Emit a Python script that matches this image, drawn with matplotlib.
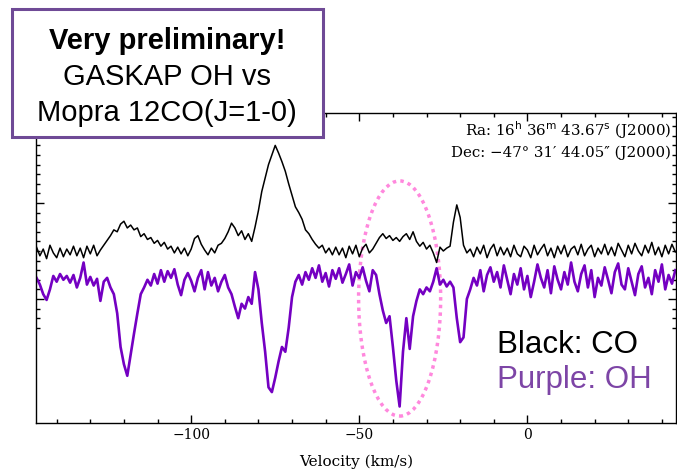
import numpy as np
import matplotlib
matplotlib.use('Agg')
import matplotlib.pyplot as plt
from matplotlib.patches import Ellipse, Rectangle
from matplotlib.ticker import MultipleLocator, FixedLocator

# canales de velocidad (km/s), paso de 1 km/s
vel = np.arange(-146, 45, 1.0)

# espectro CO (negro), unidades arbitrarias
co = [0.54, 0.45, 0.52, 0.42, 0.56, 0.48, 0.43, 0.53, 0.44, 0.52,
      0.46, 0.55, 0.45, 0.53, 0.43, 0.55, 0.47, 0.56, 0.45, 0.51,
      0.56, 0.61, 0.66, 0.72, 0.70, 0.78, 0.81, 0.74, 0.77, 0.72,
      0.74, 0.65, 0.68, 0.62, 0.64, 0.58, 0.61, 0.55, 0.59, 0.52,
      0.55, 0.48, 0.54, 0.47, 0.53, 0.45, 0.52, 0.63, 0.66, 0.57,
      0.51, 0.46, 0.53, 0.48, 0.56, 0.58, 0.63, 0.70, 0.79, 0.74,
      0.66, 0.71, 0.62, 0.68, 0.60, 0.75, 0.92, 1.12, 1.26, 1.40,
      1.50, 1.60, 1.52, 1.43, 1.33, 1.20, 1.08, 0.96, 0.90, 0.83,
      0.72, 0.68, 0.62, 0.57, 0.53, 0.56, 0.48, 0.53, 0.46, 0.54,
      0.46, 0.53, 0.43, 0.55, 0.47, 0.56, 0.44, 0.53, 0.57, 0.48,
      0.52, 0.58, 0.64, 0.68, 0.63, 0.66, 0.61, 0.64, 0.60, 0.65,
      0.68, 0.62, 0.70, 0.60, 0.55, 0.59, 0.52, 0.56, 0.48, 0.38,
      0.54, 0.50, 0.53, 0.55, 0.80, 0.98, 0.85, 0.56, 0.48, 0.52,
      0.44, 0.54, 0.47, 0.56, 0.43, 0.52, 0.57, 0.45, 0.54, 0.46,
      0.53, 0.44, 0.56, 0.47, 0.44, 0.55, 0.51, 0.43, 0.56, 0.46,
      0.52, 0.57, 0.45, 0.53, 0.43, 0.55, 0.47, 0.56, 0.44, 0.52,
      0.55, 0.46, 0.57, 0.45, 0.52, 0.56, 0.44, 0.53, 0.47, 0.57,
      0.46, 0.54, 0.45, 0.58, 0.51, 0.44, 0.56, 0.47, 0.58, 0.50,
      0.45, 0.56, 0.48, 0.59, 0.46, 0.54, 0.44, 0.56, 0.47, 0.57, 0.49]

# espectro OH (morado), desplazado hacia abajo
oh = [0.22, 0.15, 0.05, -0.01, 0.10, 0.24, 0.18, 0.26, 0.20, 0.24,
      0.17, 0.25, 0.12, 0.22, 0.38, 0.15, 0.23, 0.14, 0.21, -0.02,
      0.18, 0.22, 0.12, 0.05, -0.15, -0.50, -0.68, -0.80, -0.58, -0.36,
      -0.15, 0.05, 0.12, 0.20, 0.14, 0.26, 0.16, 0.30, 0.18, 0.29,
      0.22, 0.31, 0.15, 0.04, 0.20, 0.27, 0.19, 0.08, 0.22, 0.30,
      0.10, 0.28, 0.14, 0.22, 0.08, 0.18, 0.25, 0.12, 0.05, -0.08,
      -0.20, -0.05, -0.10, 0.02, -0.05, 0.28, 0.10, -0.25, -0.55, -0.92,
      -0.97, -0.82, -0.65, -0.50, -0.55, -0.30, 0.02, 0.18, 0.25, 0.15,
      0.28, 0.20, 0.32, 0.22, 0.35, 0.18, 0.27, 0.13, 0.30, 0.21,
      0.32, 0.17, 0.26, 0.36, 0.14, 0.28, 0.22, 0.33, 0.19, 0.08,
      0.30, 0.25, 0.05, -0.12, -0.25, -0.18, -0.50, -0.85, -1.12, -0.55,
      -0.20, -0.52, -0.18, -0.02, 0.10, 0.05, 0.12, 0.08, 0.18, 0.32,
      0.15, 0.20, 0.13, 0.18, 0.12, -0.20, -0.45, -0.40, 0.00, 0.10,
      0.22, 0.14, 0.30, 0.08, 0.25, 0.33, 0.18, 0.28, 0.12, 0.35,
      0.20, 0.05, 0.26, 0.15, 0.32, 0.10, 0.24, 0.02, 0.18, 0.36,
      0.22, 0.12, 0.30, 0.06, 0.34, 0.20, 0.10, 0.28, 0.15, 0.38,
      0.18, 0.08, 0.26, 0.35, 0.12, 0.30, 0.02, 0.22, 0.14, 0.33,
      0.20, 0.06, 0.28, 0.37, 0.15, 0.10, 0.32, 0.18, 0.04, 0.26,
      0.34, 0.12, 0.22, 0.05, 0.30, 0.18, 0.36, 0.10, 0.25, 0.16, 0.30]

xticks = [-100, -50, 0]
xlabels = ['\u2212100', '\u221250', '0']

fig = plt.figure(figsize=(6.77, 4.71), dpi=100)
ax = fig.add_axes([35.5 / 677, 48 / 471, 640.5 / 677, 310 / 471])

ax.plot(vel, co, color='black', lw=1.1)
ax.plot(vel, oh, color='#7400c2', lw=1.9)

# elipse punteada alrededor de la componente a -38 km/s
ax.add_patch(Ellipse((-38, 0.005), 24.4, 2.45, fill=False, ec='#ff88dd',
                     lw=2.5, ls=(0, (1, 1.2))))

ax.set_xlim(-146.3, 44.2)
ax.set_ylim(-1.292, 1.9375)
ax.xaxis.set_major_locator(FixedLocator(xticks))
ax.xaxis.set_minor_locator(MultipleLocator(10))
ax.set_xticklabels(xlabels, family='DejaVu Serif', fontsize=10)
ax.yaxis.set_major_locator(FixedLocator([0, 1]))
ax.yaxis.set_minor_locator(FixedLocator(np.round(np.arange(-0.3, 1.95, 0.1), 2)))
ax.set_yticklabels([])
ax.tick_params(which='both', direction='in', top=True, right=True, width=1)
ax.tick_params(which='major', length=6)
ax.tick_params(which='minor', length=3)
for s in ax.spines.values():
    s.set_linewidth(1.0)
ax.set_xlabel('Velocity (km/s)', family='DejaVu Serif', fontsize=11, labelpad=9)

# coordenadas
ax.text(0.992, 0.945, r'Ra: 16$^{\rm h}$ 36$^{\rm m}$ 43.67$^{\rm s}$ (J2000)',
        transform=ax.transAxes, ha='right', va='center', fontsize=10.8, family='DejaVu Serif')
ax.text(0.992, 0.87, "Dec: \u221247\u00b0 31\u2032 44.05\u2033 (J2000)",
        transform=ax.transAxes, ha='right', va='center', fontsize=10.8, family='DejaVu Serif')

# leyenda en texto
fig.text(497 / 677, 1 - 353 / 471, 'Black: CO', fontsize=22.5, color='black',
         family='Liberation Sans', va='baseline')
fig.text(497 / 677, 1 - 388 / 471, 'Purple: OH', fontsize=22.5, color='#7d45a6',
         family='Liberation Sans', va='baseline')

# recuadro del titulo
fig.patches.append(Rectangle((12 / 677, 1 - 137 / 471), 311 / 677, 128 / 471,
                             transform=fig.transFigure, fc='white', ec='#6f4a96',
                             lw=2.2, zorder=5))
fig.text(167 / 677, 1 - 41 / 471, 'Very preliminary!', fontsize=21, weight='bold',
         family='Liberation Sans', ha='center', va='center', zorder=6)
fig.text(167 / 677, 1 - 77 / 471, 'GASKAP OH vs', fontsize=21,
         family='Liberation Sans', ha='center', va='center', zorder=6)
fig.text(167 / 677, 1 - 113 / 471, 'Mopra 12CO(J=1-0)', fontsize=21,
         family='Liberation Sans', ha='center', va='center', zorder=6)

fig.savefig('out.png', dpi=100)
